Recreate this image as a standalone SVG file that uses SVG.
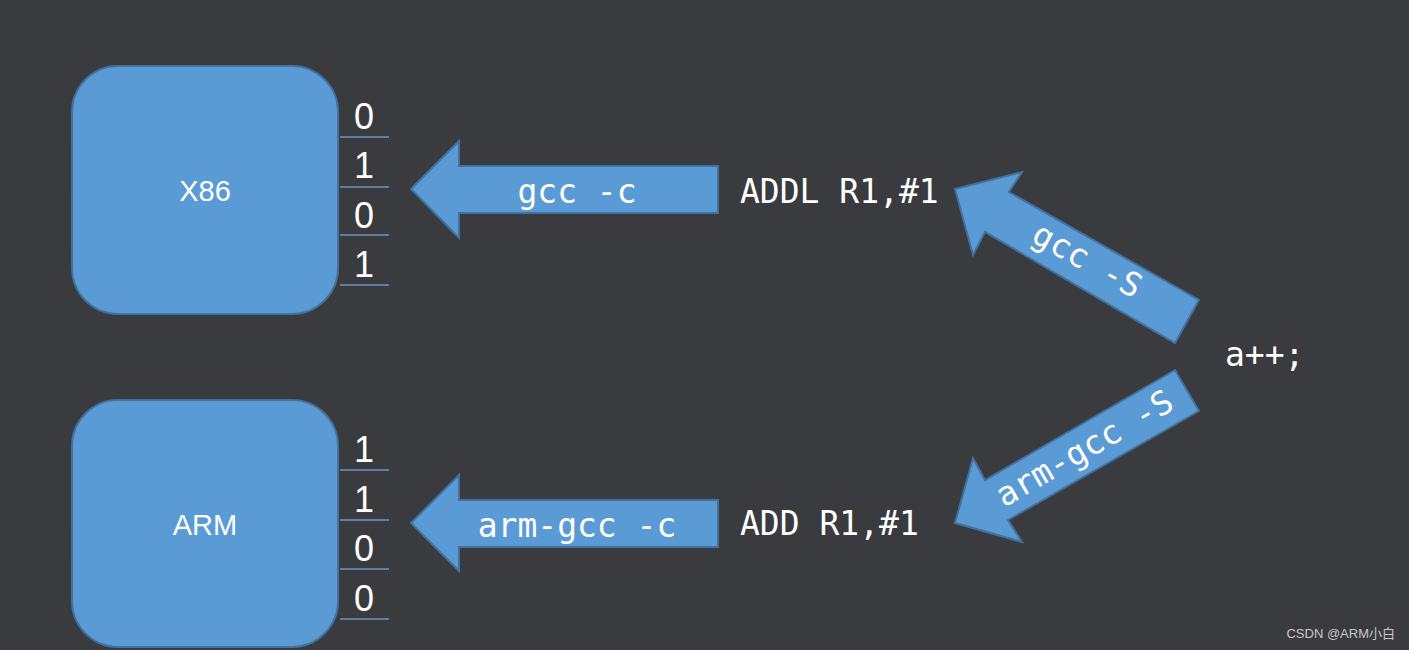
<svg xmlns="http://www.w3.org/2000/svg" width="1409" height="650" viewBox="0 0 1409 650">
<style>
.box{fill:#5b9bd5;stroke:#41719c;stroke-width:2}
.arr{fill:#5b9bd5;stroke:#41719c;stroke-width:2}
.ln{stroke:#6f94c0;stroke-width:1.3}
.code{font-family:"DejaVu Sans Mono",monospace;fill:#fff;font-size:33px}
.bit{font-family:"Liberation Sans",sans-serif;fill:#fff;font-size:36px;text-anchor:middle}
.lbl{font-family:"Liberation Sans",sans-serif;fill:#fff;font-size:29px;text-anchor:middle}
</style>
<rect width="1409" height="650" fill="#3a3b3f"/>
<g id="x86"><rect class="box" x="72" y="66" width="266" height="248" rx="46"/><text class="lbl" x="205" y="201">X86</text></g>
<g id="arm"><rect class="box" x="72" y="400" width="266" height="247" rx="46"/><text class="lbl" x="205" y="535">ARM</text></g>
<g id="bits-x86">
<text class="bit" x="364" y="129">0</text><text class="bit" x="364" y="178">1</text><text class="bit" x="364" y="228">0</text><text class="bit" x="364" y="277">1</text>
<line class="ln" x1="340" y1="137" x2="389" y2="137"/><line class="ln" x1="340" y1="187" x2="389" y2="187"/><line class="ln" x1="340" y1="235" x2="389" y2="235"/><line class="ln" x1="340" y1="285" x2="389" y2="285"/>
</g>
<g id="bits-arm">
<text class="bit" x="364" y="462">1</text><text class="bit" x="364" y="512">1</text><text class="bit" x="364" y="561">0</text><text class="bit" x="364" y="611">0</text>
<line class="ln" x1="340" y1="470" x2="389" y2="470"/><line class="ln" x1="340" y1="520" x2="389" y2="520"/><line class="ln" x1="340" y1="569" x2="389" y2="569"/><line class="ln" x1="340" y1="619" x2="389" y2="619"/>
</g>
<g id="connectors">
<polygon class="arr" points="411,189 459,141 459,166 718,166 718,213 459,213 459,238"/>
<polygon class="arr" points="411,523 459,475 459,500 718,500 718,547 459,547 459,571"/>
<polygon class="arr" points="955,189 1022,172 1009,192 1199,300 1175,343 985,232 973,255"/>
<polygon class="arr" points="955,523 973,458 985,480 1175,370 1199,411 1008,520 1022,542"/>
<text class="code" x="577" y="203" text-anchor="middle">gcc -c</text>
<text class="code" x="577" y="537" text-anchor="middle">arm-gcc -c</text>
<text class="code" transform="translate(1082,270) rotate(29)" text-anchor="middle">gcc -S</text>
<text class="code" transform="translate(1090,458) rotate(-30)" text-anchor="middle">arm-gcc -S</text>
</g>
<g id="asm-x86"><text class="code" x="740" y="203">ADDL R1,#1</text></g>
<g id="asm-arm"><text class="code" x="740" y="535">ADD R1,#1</text></g>
<g id="src"><text class="code" x="1225" y="366">a++;</text></g>
<text x="1395" y="638" font-family="'Liberation Sans','Noto Sans CJK SC',sans-serif" font-size="13" fill="#c8c8c8" text-anchor="end">CSDN @ARM小白</text>
</svg>
